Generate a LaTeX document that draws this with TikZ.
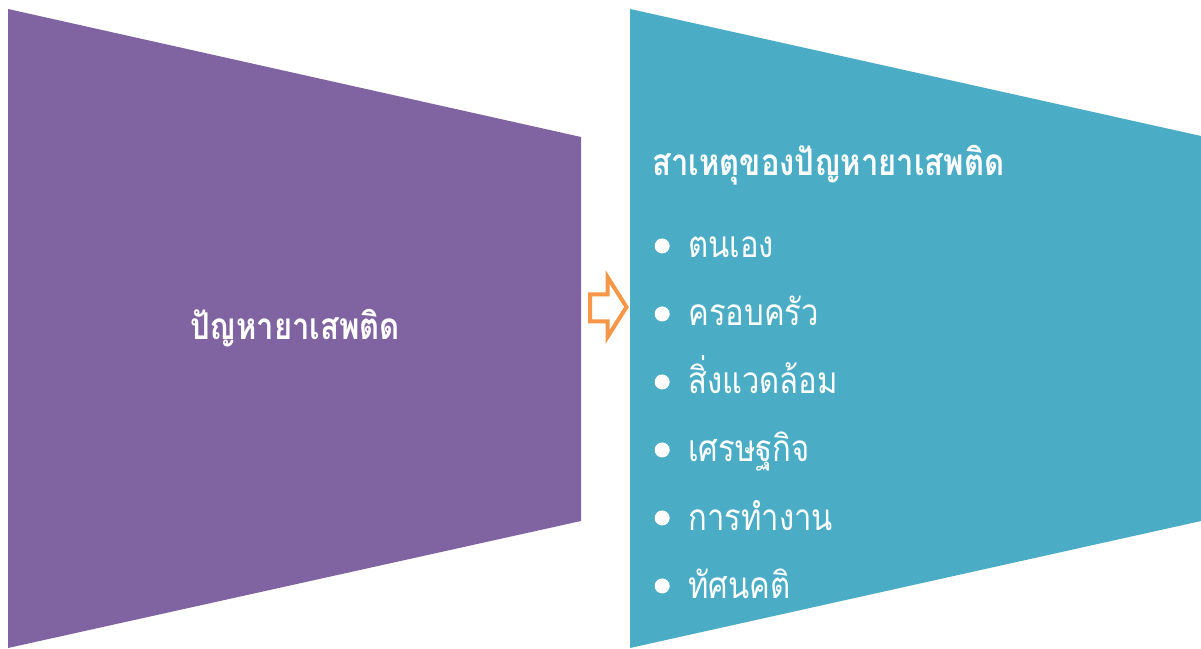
\documentclass[tikz,border=0pt]{standalone}
\usepackage{fontspec}
\newfontfamily\thaifont[Script=Thai, FakeStretch=0.84]{Loma}
\usetikzlibrary{positioning}
\definecolor{drugpurple}{HTML}{8064A2}
\definecolor{causeteal}{HTML}{4BACC6}
\definecolor{arroworange}{HTML}{F79646}
\tikzset{
  panel/.style={fill=#1, draw=none},
  heading/.style={text=white, font=\thaifont\bfseries\fontsize{21}{25}\selectfont, inner sep=0pt},
  dot/.style={circle, fill=white, inner sep=0pt, minimum size=0.3cm, xshift=-0.36cm, yshift=0.1cm},
  item/.style={text=white, font=\thaifont\fontsize{21}{25}\selectfont, inner sep=0pt,
    text height=1em, text depth=.2em, label={[dot]left:{}}}
}

\begin{document}
\begin{tikzpicture}
		\useasboundingbox (0,0) rectangle (24.02,12.96);
		
		% left panel
		\fill[panel=drugpurple] (0.16,12.78) -- (11.62,10.22) -- (11.62,2.54) -- (0.16,0) -- cycle;
		\node(problem) [heading] at (5.9,6.4) {ปัญหายาเสพติด};
		
		% right panel
		\fill[panel=causeteal] (12.6,12.78) -- (24.02,10.24) -- (24.02,2.54) -- (12.6,0) -- cycle;
		\node(causes) [heading, anchor=base west] at (13.04,9.44) {สาเหตุของปัญหายาเสพติด};
		
		\node(self) [item, anchor=base west] at (13.76,7.8) {ตนเอง};
		\node(family) [item, below=1.36cm of self.west, anchor=west] {ครอบครัว};
		\node(env) [item, below=1.36cm of family.west, anchor=west] {สิ่งแวดล้อม};
		\node(econ) [item, below=1.36cm of env.west, anchor=west] {เศรษฐกิจ};
		\node(work) [item, below=1.36cm of econ.west, anchor=west] {การทำงาน};
		\node(attitude) [item, below=1.36cm of work.west, anchor=west] {ทัศนคติ};
		
		% arrow between panels
		\draw[arroworange, line width=0.08cm, fill=white] (11.8,7.07) -- (12.15,7.07) -- (12.15,7.42)
			-- (12.53,6.82) -- (12.15,6.22) -- (12.15,6.53) -- (11.8,6.53) -- cycle;
		
		\end{tikzpicture}
\end{document}
